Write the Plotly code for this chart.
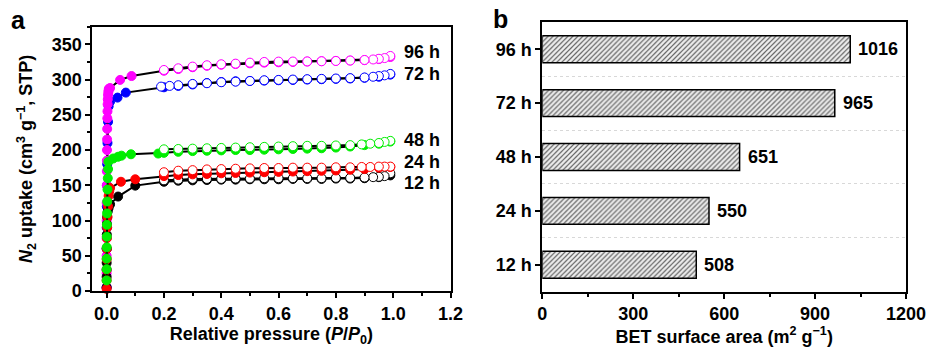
import plotly.graph_objects as go

# ---------------- Panel a: N2 isotherms ----------------
# 12 h (black)
ads12_p = [0.00001, 0.00005, 0.0001, 0.0003, 0.0006, 0.001, 0.002, 0.004, 0.007, 0.012, 0.04, 0.1,
           0.2, 0.25, 0.3, 0.35, 0.4, 0.45, 0.5, 0.55, 0.6, 0.65, 0.7, 0.75, 0.8, 0.85, 0.9, 0.95, 0.99]
ads12_v = [5, 20, 40, 60, 80, 95, 105, 113, 118, 123, 134, 149.5,
           155, 156.5, 157, 157.5, 158, 158, 158.5, 158.5, 158.5, 159, 159, 159, 159.5, 159.5, 160, 161.5, 164]
des12_p = [0.99, 0.97, 0.95, 0.93, 0.9, 0.85, 0.8, 0.75, 0.7, 0.65, 0.6, 0.55, 0.5, 0.45, 0.4, 0.35, 0.3, 0.25, 0.2]
des12_v = [167, 163, 162, 161.5, 161, 160.5, 160.5, 160, 160, 160, 160, 160, 159.5, 159.5, 159, 159, 159, 158, 157]

# 24 h (red)
ads24_p = [0.00001, 0.00005, 0.0001, 0.0003, 0.0006, 0.001, 0.002, 0.003, 0.005, 0.007, 0.009, 0.012, 0.05, 0.1,
           0.2, 0.25, 0.3, 0.35, 0.4, 0.45, 0.5, 0.55, 0.6, 0.65, 0.7, 0.75, 0.8, 0.85, 0.9, 0.95, 0.99]
ads24_v = [3, 15, 30, 45, 60, 75, 90, 105, 120, 135, 141, 146, 155, 158.5,
           163, 164.5, 165.5, 166, 167, 167.5, 168, 168.5, 169, 169.5, 170, 170.5, 171, 172, 173, 175, 176]
des24_p = [0.99, 0.97, 0.95, 0.92, 0.89, 0.85, 0.8, 0.75, 0.7, 0.65, 0.6, 0.55, 0.5, 0.45, 0.4, 0.35, 0.3, 0.25, 0.2]
des24_v = [176.5, 176.5, 176.5, 176, 176, 175.5, 175.5, 175, 175, 175, 174.5, 174.5, 174, 173.5, 173, 172.5, 171.5, 170.7, 168.5]

# 48 h (green)
ads48_p = [0.00001, 0.00005, 0.0001, 0.0003, 0.0006, 0.001, 0.0015, 0.002, 0.003, 0.004, 0.005, 0.006, 0.023, 0.04, 0.052, 0.085,
           0.18, 0.2, 0.25, 0.3, 0.35, 0.4, 0.45, 0.5, 0.55, 0.6, 0.65, 0.7, 0.75, 0.8, 0.85, 0.9, 0.95, 0.99]
ads48_v = [15, 31, 46, 62, 77, 94, 110, 127, 144, 160, 173, 183.5, 188, 190.5, 192, 194,
           195, 196, 197.5, 198.5, 199, 199.5, 200, 200, 200.5, 201, 201.5, 202, 202.5, 203.5, 205, 207, 209, 212]
des48_p = [0.99, 0.97, 0.95, 0.92, 0.89, 0.85, 0.8, 0.75, 0.7, 0.65, 0.6, 0.55, 0.5, 0.45, 0.4, 0.35, 0.3, 0.25, 0.2]
des48_v = [213, 211.5, 210, 209, 208, 207, 206.5, 206, 206, 205.5, 205, 204.5, 204, 203.5, 203, 202.5, 202, 201.5, 201]

# 72 h (blue)
ads72_p = [0.00001, 0.00005, 0.0001, 0.0003, 0.0006, 0.001, 0.002, 0.003, 0.005, 0.007, 0.012, 0.038, 0.067,
           0.2, 0.25, 0.3, 0.35, 0.4, 0.45, 0.5, 0.55, 0.6, 0.65, 0.7, 0.75, 0.8, 0.85, 0.9, 0.95, 0.99]
ads72_v = [5, 30, 60, 90, 120, 150, 180, 210, 240, 262, 268.7, 274.4, 281.5,
           289, 291, 293, 295, 296.5, 297.5, 298, 298.5, 299, 299.5, 300, 300.5, 301, 301.5, 302.5, 304, 307]
des72_p = [0.99, 0.97, 0.95, 0.93, 0.9, 0.85, 0.8, 0.75, 0.7, 0.65, 0.6, 0.55, 0.5, 0.45, 0.4, 0.35, 0.3, 0.25, 0.22, 0.19]
des72_v = [308, 306, 305, 304, 303, 302, 301.5, 301, 300.5, 300, 299.5, 299, 298, 297, 296.2, 294.8, 293.8, 292, 291, 290]

# 96 h (magenta)
ads96_p = [0.00001, 0.00003, 0.00005, 0.0001, 0.0002, 0.0003, 0.0005, 0.0007, 0.001, 0.0013, 0.0016, 0.002,
           0.0025, 0.003, 0.0035, 0.004, 0.005, 0.006, 0.007, 0.008, 0.012, 0.047, 0.087,
           0.2, 0.25, 0.3, 0.35, 0.4, 0.45, 0.5, 0.55, 0.6, 0.65, 0.7, 0.75, 0.8, 0.85, 0.9, 0.95, 0.99]
ads96_v = [5, 25, 50, 75, 100, 125, 150, 170, 185, 200, 215, 230,
           245, 255, 265, 272, 278, 282, 285, 287, 288, 299.5, 305,
           312.5, 315, 317.5, 319.5, 321, 322, 323, 324, 324.5, 325, 325.5, 326, 326.5, 327, 327.5, 329, 332]
des96_p = [0.99, 0.97, 0.95, 0.93, 0.9, 0.85, 0.8, 0.75, 0.7, 0.65, 0.6, 0.55, 0.5, 0.45, 0.4, 0.35, 0.3, 0.25, 0.2]
des96_v = [333.5, 330.5, 329.5, 328.5, 327.8, 327, 326.4, 326, 325.8, 325.6, 325.5, 325, 324, 322.6, 321.7, 320.3, 318.4, 316, 313.6]

series_names = ["12 h", "24 h", "48 h", "72 h", "96 h"]
series_colors = ["#000000", "#ff0000", "#00ee00", "#0000ff", "#ff00ff"]
label_y = [153, 183, 214, 308, 339.6]

iso = {
    "12 h": (ads12_p, ads12_v, des12_p, des12_v),
    "24 h": (ads24_p, ads24_v, des24_p, des24_v),
    "48 h": (ads48_p, ads48_v, des48_p, des48_v),
    "72 h": (ads72_p, ads72_v, des72_p, des72_v),
    "96 h": (ads96_p, ads96_v, des96_p, des96_v),
}
draw_order = ["72 h", "96 h", "12 h", "24 h", "48 h"]

# ---------------- Panel b: BET surface area ----------------
bet_categories = ["12 h", "24 h", "48 h", "72 h", "96 h"]
bet_values = [508, 550, 651, 965, 1016]

FONT = "Liberation Sans, Arial, Helvetica, sans-serif"

fig = go.Figure()

for name in draw_order:
    i = series_names.index(name)
    col = series_colors[i]
    ap, av, dp, dv = iso[name]
    fig.add_trace(go.Scatter(
        x=ap, y=av, mode="lines+markers", xaxis="x", yaxis="y",
        line=dict(color="black", width=2),
        marker=dict(symbol="circle", size=9, color=col, line=dict(color=col, width=1)),
        showlegend=False, cliponaxis=False))
    fig.add_trace(go.Scatter(
        x=dp, y=dv, mode="lines+markers", xaxis="x", yaxis="y",
        line=dict(color="black", width=2),
        marker=dict(symbol="circle", size=9, color="white", line=dict(color=col, width=1)),
        showlegend=False, cliponaxis=False))

for i, name in enumerate(series_names):
    fig.add_annotation(x=1.03, y=label_y[i], xref="x", yref="y", text=name, showarrow=False,
                       xanchor="left", yanchor="middle",
                       font=dict(family=FONT, size=18, color="black", weight="bold"))

ypos = list(range(len(bet_categories)))
fig.add_trace(go.Bar(
    x=bet_values, y=ypos, orientation="h", width=0.5, xaxis="x2", yaxis="y2",
    marker=dict(color="#eeeeee", line=dict(color="black", width=1.5),
                pattern=dict(shape="/", fgcolor="#666666", bgcolor="#eeeeee", size=3.5, solidity=0.35)),
    showlegend=False))

for v, yy in zip(bet_values, ypos):
    fig.add_annotation(x=v, y=yy, xref="x2", yref="y2", text=str(v), showarrow=False,
                       xanchor="left", yanchor="middle", xshift=6,
                       font=dict(family=FONT, size=18, color="black", weight="bold"))

fig.add_annotation(x=18 / 928, y=1 - 20 / 347, xref="paper", yref="paper", text="a", showarrow=False,
                   xanchor="center", yanchor="middle", font=dict(family=FONT, size=25, color="black", weight="bold"))
fig.add_annotation(x=500 / 928, y=1 - 19 / 347, xref="paper", yref="paper", text="b", showarrow=False,
                   xanchor="center", yanchor="middle", font=dict(family=FONT, size=25, color="black", weight="bold"))

tickf = dict(family=FONT, size=18, color="black", weight="bold")
titlef = dict(family=FONT, size=18, color="black", weight="bold")
axis_common = dict(showline=True, linecolor="black", linewidth=2, mirror=True, ticks="outside",
                   ticklen=5, tickwidth=1.5, tickcolor="black", showgrid=False, zeroline=False,
                   tickfont=tickf, automargin=False)

fig.update_layout(
    template="none",
    width=928, height=347, margin=dict(l=0, r=0, t=0, b=0),
    paper_bgcolor="white", plot_bgcolor="white",
    font=dict(family=FONT, color="black"),
    xaxis=dict(domain=[92.3 / 928, 450.5 / 928], range=[-0.05, 1.2], dtick=0.2, tick0=0, tickformat=".1f",
               minor=dict(dtick=0.1, ticks="outside", ticklen=3, tickwidth=1.5, tickcolor="black"),
               title=dict(text="Relative pressure (<i>P</i>/<i>P</i><sub>0</sub>)", font=titlef, standoff=7),
               anchor="y", **axis_common),
    yaxis=dict(domain=[1 - 291 / 347, 1 - 26.7 / 347], range=[0, 375], dtick=50, tick0=0,
               minor=dict(dtick=25, ticks="outside", ticklen=3, tickwidth=1.5, tickcolor="black"),
               title=dict(text="<i>N</i><sub>2</sub> uptake (cm<sup>3</sup> g<sup>\u22121</sup>, STP)",
                          font=titlef, standoff=14),
               anchor="x", **axis_common),
    xaxis2=dict(domain=[542.3 / 928, 906 / 928], range=[0, 1200], dtick=300, tick0=0,
                minor=dict(dtick=150, ticks="outside", ticklen=3, tickwidth=1.5, tickcolor="black"),
                title=dict(text="BET surface area (m<sup>2</sup> g<sup>\u22121</sup>)", font=titlef, standoff=7),
                anchor="y2", **axis_common),
    yaxis2=dict(domain=[1 - 291.7 / 347, 1 - 22.3 / 347], range=[-0.5, 4.5],
                tickvals=ypos, ticktext=bet_categories,
                minor=dict(tickvals=[0.5, 1.5, 2.5, 3.5], showgrid=True, gridcolor="#d8d8d8",
                           griddash="dot", gridwidth=1, ticks=""),
                anchor="x2", **axis_common),
)

fig.write_html("out.html", config={"displayModeBar": False},
               post_script="document.body.style.margin='0';document.body.style.padding='0';")
